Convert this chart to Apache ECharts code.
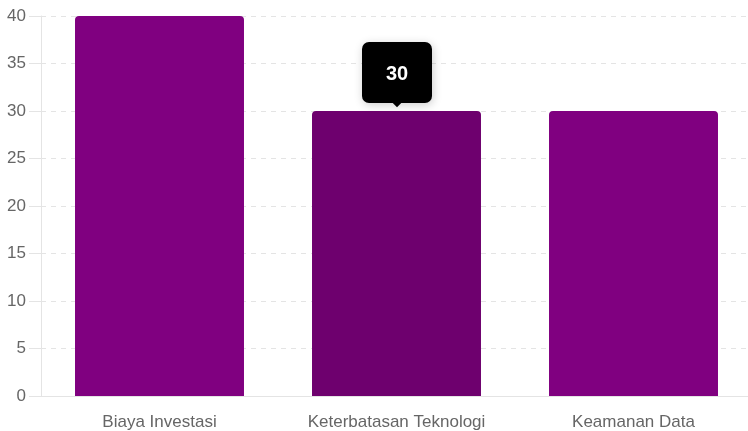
<!DOCTYPE html>
<html>
<head>
<meta charset="utf-8">
<script src="https://cdn.jsdelivr.net/npm/echarts@6/dist/echarts.min.js"></script>
<style>
  html, body { margin: 0; padding: 0; background: #fff; }
  #chart { width: 748px; height: 431px; }
</style>
</head>
<body>
<div id="chart"></div>
<script>
// data
const categories = ['Biaya Investasi', 'Keterbatasan Teknologi', 'Keamanan Data'];
const values = [40, 30, 30];
const yTicks = { min: 0, max: 40, interval: 5 };
const activeIndex = 1;

const chart = echarts.init(document.getElementById('chart'), null, { renderer: 'canvas' });

const option = {
  animation: false,
  grid: {
    left: 41,
    top: 16,
    width: 711,
    bottom: 35,
    outerBoundsMode: 'none',
  },
  tooltip: {
    trigger: 'item',
    position: 'top',
    transitionDuration: 0,
    backgroundColor: '#000',
    borderColor: '#000',
    borderWidth: 0,
    borderRadius: 7,
    padding: [16, 24, 15, 24],
    textStyle: {
      color: '#fff',
      fontSize: 20,
      fontWeight: 'bold',
      fontFamily: 'Arial, Liberation Sans, sans-serif',
    },
    formatter: p => String(p.value),
  },
  xAxis: {
    type: 'category',
    data: categories,
    axisLine: { lineStyle: { color: '#e4e4e4' } },
    axisTick: { show: false },
    axisLabel: {
      color: '#666',
      fontSize: 17,
      margin: 18,
      fontFamily: 'Arial, Liberation Sans, sans-serif',
    },
  },
  yAxis: {
    type: 'value',
    min: yTicks.min,
    max: yTicks.max,
    interval: yTicks.interval,
    axisLine: { show: true, lineStyle: { color: '#e4e4e4' } },
    axisTick: { show: true, length: 12, lineStyle: { color: '#e4e4e4' } },
    axisLabel: {
      color: '#666',
      fontSize: 17,
      margin: 15,
      fontFamily: 'Arial, Liberation Sans, sans-serif',
    },
    splitLine: { lineStyle: { color: '#e4e4e4', type: [5, 5] } },
  },
  series: [
    {
      type: 'bar',
      data: values,
      barWidth: '71.3%',
      itemStyle: {
        color: '#800080',
        borderRadius: [4, 4, 0, 0],
      },
      emphasis: {
        itemStyle: { color: '#6e006e' },
      },
    },
  ],
};

chart.setOption(option);

// hovered state on the middle bar
chart.dispatchAction({ type: 'highlight', seriesIndex: 0, dataIndex: activeIndex });
chart.dispatchAction({ type: 'showTip', seriesIndex: 0, dataIndex: activeIndex });
</script>
</body>
</html>
